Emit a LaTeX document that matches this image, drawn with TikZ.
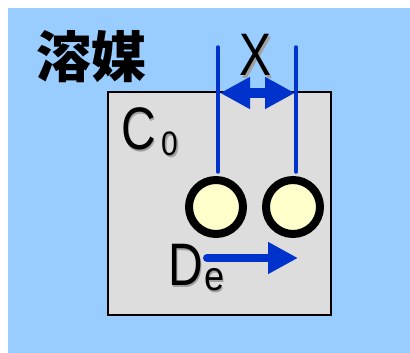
\documentclass[tikz,border=0pt]{standalone}
\usepackage{fontspec}
\setmainfont{Liberation Sans}
\newfontfamily\cjk{Noto Sans CJK JP}
\usetikzlibrary{arrows.meta}
\definecolor{bgblue}{HTML}{99CCFF}
\definecolor{boxgray}{HTML}{DDDDDD}
\definecolor{lineblue}{HTML}{0033CC}
\definecolor{ballfill}{HTML}{FFFFCC}
\definecolor{shadowgray}{HTML}{A0A0A0}
\newcommand{\shadowed}[1]{\makebox[0pt][l]{\kern2pt\raisebox{-2pt}{\textcolor{shadowgray}{#1}}}#1}
\tikzset{
  bigtxt/.style={inner sep=0pt, font=\fontsize{60}{60}\selectfont, xscale=0.8},
  subtxt/.style={inner sep=0pt, font=\fontsize{#1}{#1}\selectfont, xscale=0.88},
  guide/.style={draw=lineblue, line width=3.5pt, line cap=round},
  ball/.style={circle, draw=black, fill=ballfill, line width=8pt, minimum size=54pt, inner sep=0pt},
  bluearrow/.style={draw=lineblue, line width=#1, -{Triangle[length=30pt,width=30pt]}, lineblue},
}
\begin{document}
\begin{tikzpicture}[x=1pt,y=-1pt]
\useasboundingbox (0,0) rectangle (410,353);
\fill[white] (0,0) rectangle (410,353);
\fill[bgblue] (8,8) rectangle (410,353);
\draw[black, line width=1.8pt, fill=boxgray] (108,92) rectangle (331,315);
% solvent label
\node[inner sep=0pt, text=black, font=\cjk\bfseries\fontsize{55}{55}\selectfont] (solvent) at (91,57) {溶媒};
% balls
\node[ball] (L) at (216,207) {};
\node[ball] (R) at (293,207) {};
% guide lines
\coordinate (lt) at (218,47);
\coordinate (rt) at (296,47);
\draw[guide, shorten >=4pt] (lt) -- (lt |- L.north);
\draw[guide, shorten >=4pt] (rt) -- (rt |- R.north);
% double arrow X
\coordinate (al) at (220,93);
\coordinate (ar) at (295,93);
\draw[draw=lineblue, line width=10pt, {Triangle[length=30pt,width=30pt]}-{Triangle[length=30pt,width=30pt]}, lineblue] (al) -- (ar);
% De arrow
\coordinate (ds) at (207,258);
\coordinate (de) at (298,258);
\draw[bluearrow=8pt, line cap=round] (ds) -- (de);
% labels with shadows
\node[bigtxt, anchor=base] (xlab) at (256,76) {\shadowed{X}};
\node[bigtxt, anchor=base west] (c) at (121,149) {\shadowed{C}};
\node[subtxt=34, anchor=base west] (c0) at (161,155) {\shadowed{0}};
\node[bigtxt, anchor=base west] (d) at (168,285) {\shadowed{D}};
\node[subtxt=41, anchor=base west] (e) at (204,290) {\shadowed{e}};
\end{tikzpicture}
\end{document}
